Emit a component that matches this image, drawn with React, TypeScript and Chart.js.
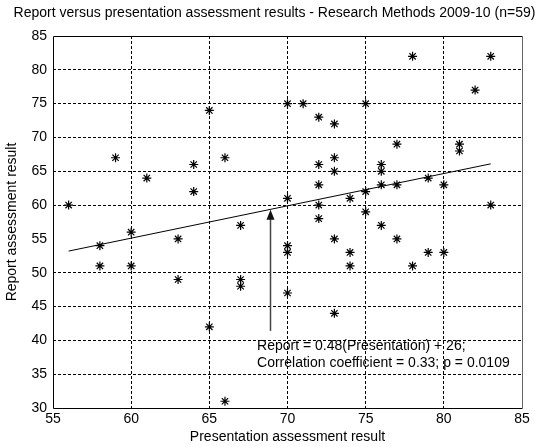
import React, { useEffect, useRef } from "react";
import { Chart, registerables } from "chart.js";

Chart.register(...registerables);

const titleText = "Report versus presentation assessment results - Research Methods 2009-10 (n=59)";
const xTitle = "Presentation assessment result";
const yTitle = "Report assessment result";
const annotationLines = [
  "Report = 0.48(Presentation) + 26;",
  "Correlation coefficient = 0.33; p = 0.0109",
];

const presentation = [
  56, 58, 58, 59, 60, 60, 61, 63, 63, 64, 64, 65, 65, 66, 66, 67, 67, 67, 70, 70,
  70, 70, 70, 71, 72, 72, 72, 72, 72, 73, 73, 73, 73, 73, 74, 74, 74, 75, 75, 75,
  76, 76, 76, 76, 77, 77, 77, 78, 78, 79, 79, 80, 80, 81, 81, 82, 83, 83,
];
const report = [
  60, 54, 51, 67, 56, 51, 64, 55, 49, 66, 62, 74, 42, 67, 31, 57, 49, 48, 75, 61,
  54, 53, 47, 75, 73, 66, 63, 60, 58, 72, 67, 65, 55, 44, 61, 53, 51, 75, 62, 59,
  66, 65, 63, 57, 69, 63, 55, 82, 51, 64, 53, 63, 53, 69, 68, 77, 82, 60,
];

const fitX = [56, 83];
const fitY = [53.2, 66.1];

const arrowX = 68.9;
const arrowFromY = 41.4;
const arrowToY = 59.3;
const annotationAt = [68.05, 39.1];

const xTicks = [55, 60, 65, 70, 75, 80, 85];
const yTicks = [30, 35, 40, 45, 50, 55, 60, 65, 70, 75, 80, 85];

const FONT = '"Liberation Sans", Arial, Helvetica, sans-serif';
const FS = 14;

export default function App() {
  const ref = useRef<HTMLCanvasElement | null>(null);

  useEffect(() => {
    if (!ref.current) return;
    const overlay = {
      id: "overlay",
      beforeDatasetsDraw(chart: any) {
        const { ctx, chartArea } = chart;
        ctx.save();
        ctx.strokeStyle = "#000";
        ctx.lineWidth = 1;
        ctx.setLineDash([]);
        const l = Math.round(chartArea.left) + 0.5;
        const t = Math.round(chartArea.top) + 0.5;
        const r = Math.round(chartArea.right) + 0.5;
        const b = Math.round(chartArea.bottom) + 0.5;
        ctx.beginPath();
        ctx.moveTo(r, t);
        ctx.lineTo(l, t);
        ctx.lineTo(l, b);
        ctx.lineTo(r, b);
        ctx.stroke();
        ctx.strokeStyle = "#666";
        ctx.beginPath();
        ctx.moveTo(r, t);
        ctx.lineTo(r, b);
        ctx.stroke();
        ctx.restore();
      },
      afterDatasetsDraw(chart: any) {
        const { ctx, scales, chartArea, width, height } = chart;
        const xs = scales.x;
        const ys = scales.y;
        ctx.save();
        // arrow
        const ax = Math.round(xs.getPixelForValue(arrowX)) + 0.5;
        const y0 = ys.getPixelForValue(arrowFromY);
        const y1 = ys.getPixelForValue(arrowToY);
        ctx.strokeStyle = "#444";
        ctx.lineWidth = 1.5;
        ctx.beginPath();
        ctx.moveTo(ax, y0);
        ctx.lineTo(ax, y1 + 8);
        ctx.stroke();
        ctx.fillStyle = "#111";
        ctx.beginPath();
        ctx.moveTo(ax, y1);
        ctx.lineTo(ax - 4, y1 + 10);
        ctx.lineTo(ax + 4, y1 + 10);
        ctx.closePath();
        ctx.fill();
        // annotation
        ctx.fillStyle = "#000";
        ctx.font = `${FS}px ${FONT}`;
        ctx.textAlign = "left";
        ctx.textBaseline = "middle";
        const tx = xs.getPixelForValue(annotationAt[0]);
        const ty = ys.getPixelForValue(annotationAt[1]);
        annotationLines.forEach((s, i) => ctx.fillText(s, tx, ty + i * 16.5));
        // title
        ctx.textAlign = "center";
        ctx.fillText(titleText, width / 2, 13);
        // axis titles
        ctx.fillText(xTitle, (chartArea.left + chartArea.right) / 2, height - 10);
        ctx.translate(12, (chartArea.top + chartArea.bottom) / 2);
        ctx.rotate(-Math.PI / 2);
        ctx.fillText(yTitle, 0, 0);
        ctx.restore();
      },
    };

    const gridColor = (c: any) => {
      const v = c.tick && c.tick.value;
      return v === xTicks[0] || v === xTicks[xTicks.length - 1] || v === yTicks[0] || v === yTicks[yTicks.length - 1]
        ? "rgba(0,0,0,0)"
        : "#000";
    };

    const chart = new Chart(ref.current, {
      type: "scatter",
      data: {
        datasets: [
          {
            type: "line",
            data: fitX.map((x, i) => ({ x, y: fitY[i] })),
            borderColor: "#000",
            borderWidth: 1,
            pointRadius: 0,
            fill: false,
          } as any,
          {
            data: presentation.map((x, i) => ({ x, y: report[i] })),
            pointStyle: "star",
            pointRadius: 4.5,
            borderColor: "#000",
            backgroundColor: "#000",
            borderWidth: 1.2,
          },
        ],
      },
      options: {
        animation: false,
        responsive: true,
        maintainAspectRatio: false,
        layout: { padding: { top: 36, right: 27, left: 0, bottom: 0 } },
        plugins: { legend: { display: false }, tooltip: { enabled: false }, title: { display: false } },
        scales: {
          x: {
            type: "linear",
            min: 55,
            max: 85,
            afterBuildTicks: (s: any) => {
              s.ticks = xTicks.map((v) => ({ value: v }));
            },
            afterFit: (s: any) => {
              s.height = 39;
            },
            ticks: { color: "#000", font: { family: FONT, size: FS }, padding: 3 },
            grid: { drawTicks: false, color: gridColor, lineWidth: 1 },
            border: { display: false, dash: [3, 2] },
          },
          y: {
            type: "linear",
            min: 30,
            max: 85,
            afterBuildTicks: (s: any) => {
              s.ticks = yTicks.map((v) => ({ value: v }));
            },
            afterFit: (s: any) => {
              s.width = 53;
            },
            ticks: { color: "#000", font: { family: FONT, size: FS }, padding: 6 },
            grid: { drawTicks: false, color: gridColor, lineWidth: 1 },
            border: { display: false, dash: [3, 2] },
          },
        },
      },
      plugins: [overlay],
    });
    return () => chart.destroy();
  }, []);

  return (
    <div style={{ position: "absolute", left: 0, top: 0, width: 549, height: 447, background: "#fff" }}>
      <canvas ref={ref} />
    </div>
  );
}
